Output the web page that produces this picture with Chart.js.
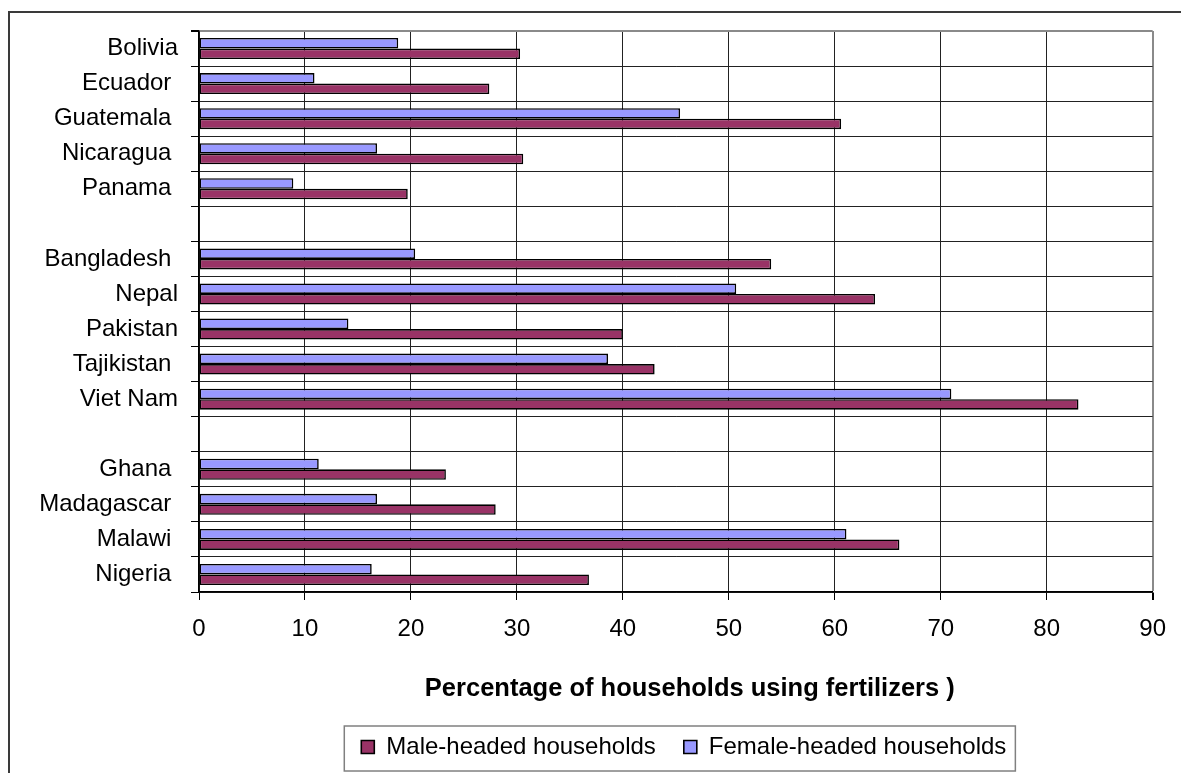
<!DOCTYPE html>
<html>
<head>
<meta charset="utf-8">
<script src="https://cdn.jsdelivr.net/npm/chart.js@4.4.1/dist/chart.umd.min.js"></script>
<style>
  html, body { margin: 0; padding: 0; background: #fff; }
  #wrap { position: relative; width: 1181px; height: 773px; }
  canvas { display: block; }
</style>
</head>
<body>
<div id="wrap"><canvas id="chart" width="1181" height="773"></canvas></div>
<script>
// Country groups (blank entries separate the regions)
const categories = [
  'Bolivia', 'Ecuador ', 'Guatemala ', 'Nicaragua ', 'Panama ',
  '',
  'Bangladesh ', 'Nepal', 'Pakistan', 'Tajikistan ', 'Viet Nam',
  '',
  'Ghana ', 'Madagascar ', 'Malawi ', 'Nigeria '
];

// Share of households using fertilizers (%)
const maleValues = [
  30.3, 27.4, 60.6, 30.6, 19.7,
  null,
  54.0, 63.8, 40.0, 43.0, 83.0,
  null,
  23.3, 28.0, 66.1, 36.8
];
const femaleValues = [
  18.8, 10.9, 45.4, 16.8, 8.9,
  null,
  20.4, 50.7, 14.1, 38.6, 71.0,
  null,
  11.3, 16.8, 61.1, 16.3
];

const xTickValues = [0, 10, 20, 30, 40, 50, 60, 70, 80, 90];
const seriesNames = ['Male-headed households', 'Female-headed households'];
const axisTitle = 'Percentage of households using fertilizers )';

const FONT = "'Liberation Sans', Arial, Helvetica, sans-serif";
Chart.defaults.font.family = FONT;
Chart.defaults.color = '#000';

// White page with the outer frame lines (left and top edges)
const framePlugin = {
  id: 'frame',
  beforeDraw(chart) {
    const ctx = chart.ctx;
    ctx.save();
    ctx.fillStyle = '#fff';
    ctx.fillRect(0, 0, chart.width, chart.height);
    ctx.strokeStyle = '#3a3a3a';
    ctx.lineWidth = 2;
    ctx.beginPath();
    ctx.moveTo(9, chart.height);
    ctx.lineTo(9, 12);
    ctx.lineTo(chart.width, 12);
    ctx.stroke();
    ctx.restore();
  }
};

// Value-axis caption, set a little right of the plot centre
const axisTitlePlugin = {
  id: 'axisTitle',
  afterDraw(chart) {
    const a = chart.chartArea;
    const ctx = chart.ctx;
    ctx.save();
    ctx.font = 'bold 25.5px ' + FONT;
    ctx.fillStyle = '#000';
    ctx.textAlign = 'center';
    ctx.textBaseline = 'middle';
    ctx.fillText(axisTitle, (a.left + a.right) / 2 + 14, a.bottom + 97);
    ctx.restore();
  }
};

// Centre the legend under the plot area and draw a box around it
const legendBoxPlugin = {
  id: 'legendBox',
  afterLayout(chart) {
    const lg = chart.legend;
    const a = chart.chartArea;
    lg.left = a.left + 16;
    lg.right = a.right;
    lg.width = lg.right - lg.left;
  },
  afterDraw(chart) {
    const lg = chart.legend;
    const hb = lg && lg.legendHitBoxes;
    if (!hb || !hb.length) return;
    const first = hb[0];
    const last = hb[hb.length - 1];
    const cy = first.top + first.height / 2;
    const left = first.left - 17;
    const right = last.left + last.width + 9;
    const ctx = chart.ctx;
    ctx.save();
    ctx.strokeStyle = '#808080';
    ctx.lineWidth = 1.5;
    ctx.strokeRect(left, cy - 21, right - left, 45);
    ctx.restore();
  }
};

new Chart(document.getElementById('chart'), {
  type: 'bar',
  data: {
    labels: categories,
    datasets: [
      {
        label: seriesNames[1],
        data: femaleValues,
        backgroundColor: '#9999FF',
        borderColor: '#000',
        borderWidth: 1.6,
        borderSkipped: false,
        categoryPercentage: 0.6,
        barPercentage: 1.0
      },
      {
        label: seriesNames[0],
        data: maleValues,
        backgroundColor: '#993366',
        borderColor: '#000',
        borderWidth: 1.6,
        borderSkipped: false,
        categoryPercentage: 0.6,
        barPercentage: 1.0
      }
    ]
  },
  options: {
    indexAxis: 'y',
    responsive: false,
    animation: false,
    devicePixelRatio: 1,
    events: [],
    layout: { padding: { top: 31, right: 22, bottom: 4, left: 0 } },
    scales: {
      x: {
        type: 'linear',
        position: 'bottom',
        min: 0,
        max: 90,
        afterBuildTicks(scale) {
          scale.ticks = xTickValues.map(v => ({ value: v }));
        },
        afterFit(scale) { scale.height = 115; },
        grid: {
          color: ctx => (ctx.tick && ctx.tick.value === 90) ? '#8a8a8a' : '#222',
          lineWidth: ctx => (ctx.tick && ctx.tick.value === 90) ? 2 : 1,
          tickColor: '#000',
          tickLength: 8,
          drawTicks: true
        },
        border: { color: '#000', width: 1.5 },
        ticks: {
          font: { size: 24 },
          color: '#000',
          padding: 15,
          maxRotation: 0,
          autoSkip: false
        },
        title: { display: false }
      },
      y: {
        type: 'category',
        position: 'left',
        offset: true,
        afterFit(scale) { scale.width = 199; },
        grid: {
          offset: true,
          color: ctx => ctx.index === 0 ? '#8a8a8a' : '#222',
          lineWidth: ctx => ctx.index === 0 ? 2 : 1,
          tickColor: '#000',
          tickLength: 8
        },
        border: { color: '#000', width: 1.5 },
        ticks: {
          font: { size: 24 },
          color: '#000',
          padding: 13,
          autoSkip: false
        }
      }
    },
    plugins: {
      tooltip: { enabled: false },
      title: { display: false },
      legend: {
        display: true,
        position: 'bottom',
        align: 'center',
        labels: {
          font: { size: 24 },
          color: '#000',
          boxWidth: 13,
          boxHeight: 13,
          padding: 28,
          sort: (a, b) => b.datasetIndex - a.datasetIndex
        }
      }
    }
  },
  plugins: [framePlugin, axisTitlePlugin, legendBoxPlugin]
});
</script>
</body>
</html>
